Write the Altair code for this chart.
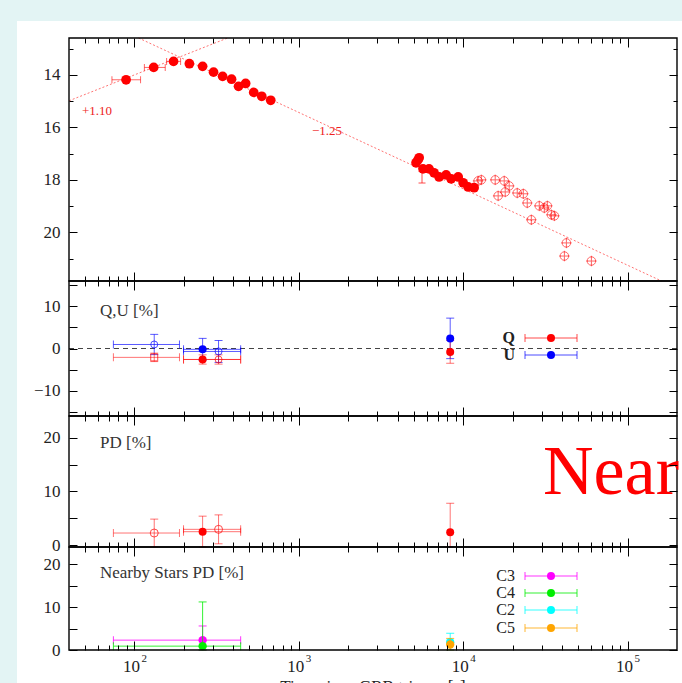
import altair as alt
import pandas as pd

# ---------------- data ----------------
# Panel 1: optical light curve (magnitude)
early_t = [89, 131, 173, 216, 260, 303, 344, 390, 430, 475, 532, 595, 675]
early_mag = [14.19, 13.72, 13.49, 13.58, 13.68, 13.90, 14.06, 14.17, 14.44, 14.33, 14.67, 14.82, 14.97]
early_xlo = [73, 115, 157]
early_xhi = [109, 154, 191]

mid_t = [5170, 5300, 5400, 5700, 6200, 6650, 7140, 7880, 8450, 9330, 10000, 10720, 11660]
mid_mag = [17.35, 17.25, 17.16, 17.58, 17.58, 17.73, 17.89, 17.81, 17.96, 17.89, 18.11, 18.27, 18.30]
mid_err_t = [5620]
mid_err_mag = [17.9]
mid_err = [0.22]

late_t = [12330, 12900, 15670, 17780, 19060, 18030, 16330, 21340, 23230, 24550, 25990,
          29050, 31180, 32530, 34420, 35890, 42480, 41300, 60300]
late_mag = [18.04, 18.00, 18.00, 18.04, 18.23, 18.46, 18.61, 18.50, 18.53, 18.88, 19.52,
            18.99, 19.07, 18.99, 19.33, 19.37, 20.40, 20.90, 21.09]

rise_t = [40, 369]
rise_mag = [14.99, 12.6]
decay_t = [106, 161000]
decay_mag = [12.6, 21.85]

# Panel 2: Q, U [%]
qu_t = [132, 260, 325, 8340]
qu_tlo = [74.5, 199, 199]
qu_thi = [188, 443, 443]
q_val = [-2.1, -2.6, -2.6, -0.8]
q_err = [1.0, 1.1, 1.1, 2.7]
u_val = [0.95, -0.2, -0.7, 2.4]
u_err = [2.4, 2.6, 2.6, 4.8]

# Panel 3: PD [%]
pd_t = [132, 260, 325, 8340]
pd_val = [2.24, 2.49, 2.93, 2.4]
pd_err = [2.6, 2.9, 2.7, 5.4]

# Panel 4: nearby stars PD [%]
star_names = ["C3", "C4", "C2", "C5"]
star_colors = ["#ff00ff", "#00ee00", "#00ffff", "#ffa500"]
star_t = [260, 260, 8340, 8340]
star_val = [2.3, 0.9, 1.8, 1.3]
star_err = [3.3, 10.3, 2.1, 1.4]
star_tlo = [74.5, 74.5]
star_thi = [443, 443]

# axis ticks / labels
xtick_major = [100, 1000, 10000, 100000]
xtick_base = ["10", "10", "10", "10"]
xtick_exp = ["2", "3", "4", "5"]
xtick_minor = [50, 60, 70, 80, 90, 200, 300, 400, 500, 600, 700, 800, 900,
               2000, 3000, 4000, 5000, 6000, 7000, 8000, 9000,
               20000, 30000, 40000, 50000, 60000, 70000, 80000, 90000]

# ---------------- layout ----------------
W, H = 682, 683
XL, XR = 69, 677
PY = [(38, 281), (281, 416), (416, 547), (547, 650)]
XDOM = [40, 200000]
YDOM = [[12.6, 21.85], [-16, 16], [-0.37, 24.1], [0, 24]]
YRNG = [[38, 281], [416, 281], [547, 416], [650, 547]]
FONT = "Liberation Serif"
RED = "#ff0000"
BLUE = "#0000ff"

XS = alt.Scale(type="log", domain=XDOM, range=[XL, XR], nice=False)
YS = [alt.Scale(domain=YDOM[p], range=YRNG[p], nice=False, zero=False, clamp=True) for p in range(4)]


def X(f):
    return alt.X(f, scale=XS, axis=None)


def Y(f, p):
    return alt.Y(f, scale=YS[p], axis=None)


one = pd.DataFrame({"k": [0]})
L = []

# slide white panel
L.append(alt.Chart(one).mark_rect(color="white").encode(
    x=alt.value(17), x2=alt.value(W), y=alt.value(21), y2=alt.value(H)))


def points(t, v, p, color, shape="circle", filled=True, size=90, op=1.0, sw=1.0):
    df = pd.DataFrame({"t": t, "v": v})
    return alt.Chart(df).mark_point(shape=shape, filled=filled, size=size, color=color,
                                    opacity=op, strokeWidth=sw).encode(x=X("t:Q"), y=Y("v:Q", p))


def vbars(t, v, e, p, color, op, cap=8):
    df = pd.DataFrame({"t": t, "lo": [a - b for a, b in zip(v, e)], "hi": [a + b for a, b in zip(v, e)]})
    b = alt.Chart(df)
    return [
        b.mark_rule(color=color, opacity=op, strokeWidth=1).encode(x=X("t:Q"), y=Y("lo:Q", p), y2="hi:Q"),
        b.mark_tick(orient="horizontal", size=cap, thickness=1, color=color, opacity=op).encode(x=X("t:Q"), y=Y("lo:Q", p)),
        b.mark_tick(orient="horizontal", size=cap, thickness=1, color=color, opacity=op).encode(x=X("t:Q"), y=Y("hi:Q", p)),
    ]


def hbars(lo, hi, v, p, color, op, cap=8):
    df = pd.DataFrame({"lo": lo, "hi": hi, "v": v})
    b = alt.Chart(df)
    return [
        b.mark_rule(color=color, opacity=op, strokeWidth=1).encode(x=X("lo:Q"), x2="hi:Q", y=Y("v:Q", p)),
        b.mark_tick(orient="vertical", size=cap, thickness=1, color=color, opacity=op).encode(x=X("lo:Q"), y=Y("v:Q", p)),
        b.mark_tick(orient="vertical", size=cap, thickness=1, color=color, opacity=op).encode(x=X("hi:Q"), y=Y("v:Q", p)),
    ]


PLUS = "M-1,0H1M0,-1V1"

# ---------- panel 1 ----------
for t_, m_ in ((rise_t, rise_mag), (decay_t, decay_mag)):
    L.append(alt.Chart(pd.DataFrame({"t": t_, "v": m_})).mark_line(
        color=RED, opacity=0.55, strokeWidth=1, strokeDash=[2, 2]).encode(x=X("t:Q"), y=Y("v:Q", 0)))
L += hbars(early_xlo, early_xhi, early_mag[:3], 0, RED, 0.6, cap=7)
L.append(points(early_t, early_mag, 0, RED, size=95))
L += vbars(mid_err_t, mid_err_mag, mid_err, 0, RED, 0.7, cap=7)
L.append(points(mid_t, mid_mag, 0, RED, size=95))
L.append(points(late_t, late_mag, 0, RED, shape="circle", filled=False, size=72, op=0.6))
L.append(points(late_t, late_mag, 0, RED, shape=PLUS, filled=False, size=110, op=0.6))

# ---------- panel 2 ----------
L.append(alt.Chart(pd.DataFrame({"a": [XDOM[0]], "b": [XDOM[1]], "v": [0]})).mark_rule(
    color="#444", strokeWidth=1, strokeDash=[5, 4]).encode(x=X("a:Q"), x2="b:Q", y=Y("v:Q", 1)))
L += hbars(qu_tlo, qu_thi, u_val[:3], 1, BLUE, 0.65)
L += hbars(qu_tlo, qu_thi, q_val[:3], 1, RED, 0.55)
L += vbars(qu_t, u_val, u_err, 1, BLUE, 0.65)
L += vbars(qu_t, q_val, q_err, 1, RED, 0.55)
L.append(points([qu_t[0]], [q_val[0]], 1, RED, shape="square", filled=False, size=49, op=0.7))
L.append(points([qu_t[2]], [q_val[2]], 1, RED, shape="circle", filled=False, size=49, op=0.7))
L.append(points([qu_t[0], qu_t[2]], [u_val[0], u_val[2]], 1, BLUE, shape="circle", filled=False, size=49, op=0.7))
L.append(points([qu_t[1], qu_t[3]], [q_val[1], q_val[3]], 1, RED, size=64))
L.append(points([qu_t[1], qu_t[3]], [u_val[1], u_val[3]], 1, BLUE, size=64))

# ---------- panel 3 ----------
L += hbars(qu_tlo, qu_thi, pd_val[:3], 2, RED, 0.55)
L += vbars(pd_t, pd_val, pd_err, 2, RED, 0.55)
L.append(points([pd_t[0], pd_t[2]], [pd_val[0], pd_val[2]], 2, RED, shape="circle", filled=False, size=64, op=0.7))
L.append(points([pd_t[1], pd_t[3]], [pd_val[1], pd_val[3]], 2, RED, size=64))

# ---------- panel 4 ----------
for i in [2, 3, 0, 1]:
    c = star_colors[i]
    if i < 2:
        L += hbars([star_tlo[i]], [star_thi[i]], [star_val[i]], 3, c, 0.8)
    L += vbars([star_t[i]], [star_val[i]], [star_err[i]], 3, c, 0.8)
    L.append(points([star_t[i]], [star_val[i]], 3, c, size=70))

# ---------- frames ----------
for p in range(4):
    df = pd.DataFrame({"x0": [XDOM[0]], "x1": [XDOM[1]], "y0": [YDOM[p][0]], "y1": [YDOM[p][1]]})
    L.append(alt.Chart(df).mark_rect(fillOpacity=0, stroke="#000", strokeWidth=1.4).encode(
        x=X("x0:Q"), x2="x1:Q", y=Y("y0:Q", p), y2="y1:Q"))


# ---------- axes (inward ticks) ----------
def yaxis(p, values, orient, size, labels=False, label_values=None):
    off = -(XL + size) if orient == "left" else (XR - size) - W
    kw = dict(orient=orient, values=values, tickSize=size, offset=off, domain=False, grid=False,
              labels=labels, title=None, zindex=1, tickColor="#000", tickWidth=1, labelPadding=9)
    if label_values is not None:
        kw["labelExpr"] = "indexof(%s, datum.value) >= 0 ? datum.label : ''" % str(label_values)
    return alt.Chart(pd.DataFrame({"v": [YDOM[p][0]]})).mark_point(opacity=0).encode(
        y=alt.Y("v:Q", scale=YS[p], axis=alt.Axis(**kw)))


def xaxis(yline, size, values):
    ax = alt.Axis(orient="bottom", values=values, tickSize=size, offset=yline - H, domain=False,
                  grid=False, labels=False, title=None, zindex=1, tickColor="#000", tickWidth=1)
    return alt.Chart(pd.DataFrame({"t": [100]})).mark_point(opacity=0).encode(
        x=alt.X("t:Q", scale=XS, axis=ax))


L.append(yaxis(0, [14, 16, 18, 20], "left", 8, labels=True))
L.append(yaxis(0, [13, 15, 17, 19, 21], "left", 4))
L.append(yaxis(0, [14, 16, 18, 20], "right", 8))
L.append(yaxis(0, [13, 15, 17, 19, 21], "right", 4))
L.append(yaxis(1, [-15, -10, -5, 0, 5, 10, 15], "left", 8, labels=True, label_values=[-10, 0, 10]))
L.append(yaxis(1, [-15, -10, -5, 0, 5, 10, 15], "right", 8))
L.append(yaxis(2, [0, 5, 10, 15, 20], "left", 8, labels=True, label_values=[0, 10, 20]))
L.append(yaxis(2, [0, 5, 10, 15, 20], "right", 8))
L.append(yaxis(3, [0, 5, 10, 15, 20], "left", 8, labels=True, label_values=[0, 10, 20]))
L.append(yaxis(3, [0, 5, 10, 15, 20], "right", 8))

L.append(xaxis(PY[0][0], 9, xtick_major))
L.append(xaxis(PY[0][0], 5, xtick_minor))
for b in (PY[1][0], PY[2][0], PY[3][0]):
    L.append(xaxis(b - 9, 18, xtick_major))
    L.append(xaxis(b - 5, 10, xtick_minor))
L.append(xaxis(PY[3][1] - 9, 9, xtick_major))
L.append(xaxis(PY[3][1] - 5, 5, xtick_minor))

# x tick labels 10^n
xt = pd.DataFrame({"t": xtick_major, "base": xtick_base, "exp": xtick_exp})
L.append(alt.Chart(xt).mark_text(font=FONT, fontSize=17, color="#222", dx=-3, baseline="middle").encode(
    x=X("t:Q"), y=alt.value(667), text="base:N"))
L.append(alt.Chart(xt).mark_text(font=FONT, fontSize=11, color="#222", dx=7, align="left", baseline="middle").encode(
    x=X("t:Q"), y=alt.value(659), text="exp:N"))


# ---------- texts ----------
def txt(s, x, y, size=17, color="#333", align="left", baseline="middle", weight="normal"):
    return alt.Chart(one).mark_text(text=s, font=FONT, fontSize=size, color=color, align=align,
                                    baseline=baseline, fontWeight=weight).encode(x=alt.value(x), y=alt.value(y))


L.append(txt("Q,U [%]", 100, 311))
L.append(txt("PD [%]", 100, 443))
L.append(txt("Nearby Stars PD [%]", 100, 573))
L.append(txt("+1.10", 82, 111, size=13, color="#ee2222"))
L.append(txt("\u22121.25", 312, 131, size=13, color="#ee2222"))
L.append(txt("Time since GRB trigger [s]", 373, 692, color="#222", align="center", baseline="alphabetic"))


# ---------- custom legends ----------
def legend_item(label, color, y, op=0.7, weight="normal", size=17):
    out = [txt(label, 515, y, size=size, color="#222", align="right", weight=weight)]
    out.append(alt.Chart(one).mark_rule(color=color, opacity=op, strokeWidth=1).encode(
        x=alt.value(525), x2=alt.value(577), y=alt.value(y)))
    for xx in (525, 577):
        out.append(alt.Chart(one).mark_rule(color=color, opacity=op, strokeWidth=1).encode(
            x=alt.value(xx), y=alt.value(y - 4), y2=alt.value(y + 4)))
    out.append(alt.Chart(one).mark_point(filled=True, size=64, color=color, opacity=1).encode(
        x=alt.value(551), y=alt.value(y)))
    return out


L += legend_item("Q", RED, 338, weight="bold", size=16)
L += legend_item("U", BLUE, 355, weight="bold", size=16)
for name, c, yy in zip(star_names, star_colors, [576, 593, 610, 628]):
    L += legend_item(name, c, yy, op=0.8, size=16)

# big slide title fragment
L.append(txt("Near", 543, 494, size=70, color=RED, baseline="alphabetic"))

chart = alt.layer(*L).resolve_scale(y="independent").resolve_axis(x="independent", y="independent").properties(
    width=W, height=H, padding=0, autosize=alt.AutoSizeParams(type="none"), background="#e3f4f4"
).configure_view(strokeWidth=0).configure_axis(
    labelFont=FONT, labelFontSize=17, labelColor="#222"
)

chart.save("out.html", embed_options={"renderer": "svg", "actions": False})
